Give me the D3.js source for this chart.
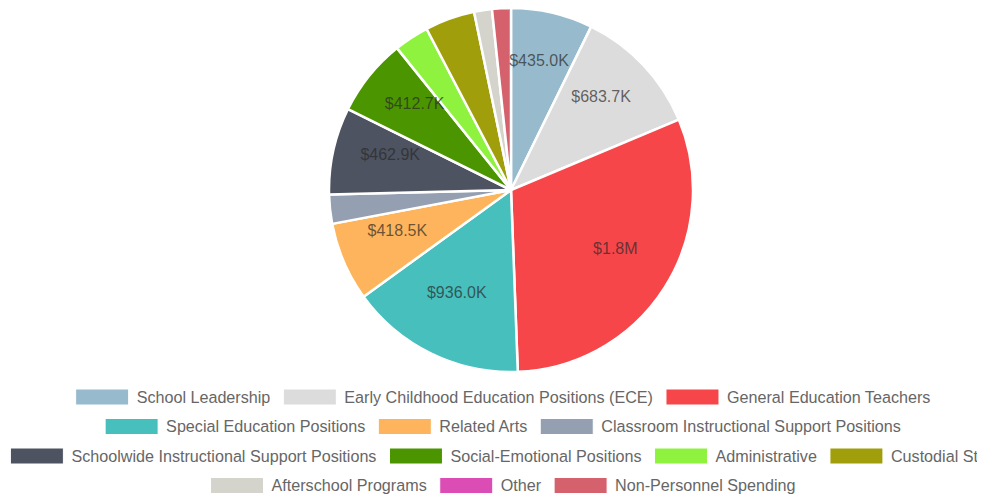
<!DOCTYPE html>
<html>
<head>
<meta charset="utf-8">
<script src="https://cdn.jsdelivr.net/npm/d3@7"></script>
<style>
  html, body { margin: 0; padding: 0; background: #fff; }
  svg { display: block; font-family: "Liberation Sans", Arial, sans-serif; }
</style>
</head>
<body>
<svg id="chart" width="995" height="497"></svg>
<script>
/* budget pie: values in dollars */
const categories = [
  'School Leadership',
  'Early Childhood Education Positions (ECE)',
  'General Education Teachers',
  'Special Education Positions',
  'Related Arts',
  'Classroom Instructional Support Positions',
  'Schoolwide Instructional Support Positions',
  'Social-Emotional Positions',
  'Administrative',
  'Custodial Staff',
  'Afterschool Programs',
  'Other',
  'Non-Personnel Spending'
];
const amounts = [435000, 683700, 1840000, 936000, 418500, 155000, 462900, 412700, 185000, 265000, 95000, 0, 100000];
const colors = ['#97BBCD', '#DCDCDC', '#F7464A', '#46BFBD', '#FDB45C', '#949FB1', '#4D5360',
                '#4B9600', '#8FF23E', '#A19E0C', '#D4D4CC', '#DB4DB5', '#D4616C'];

const W = 995, H = 497;
const chartW = 1006;          // legend was laid out on a wider canvas
const clipRight = 977;        // ...but the visible canvas stops here
const cx = 511, cy = 190, R = 182;

const svg = d3.select('#chart');

svg.append('defs').append('clipPath').attr('id', 'canvasClip')
  .append('rect').attr('x', 0).attr('y', 0).attr('width', clipRight).attr('height', H);

const fmt = v => v >= 1e6 ? '$' + (v / 1e6).toFixed(1) + 'M' : '$' + (v / 1e3).toFixed(1) + 'K';

/* ---------- pie ---------- */
const pie = d3.pie().sort(null).value(d => d.v);
const data = pie(categories.map((c, i) => ({ c, v: amounts[i], color: colors[i] })));
const total = d3.sum(amounts);

const arc = d3.arc().innerRadius(0).outerRadius(R);
const labelArc = d3.arc().innerRadius(R * 0.68).outerRadius(R * 0.68);

const g = svg.append('g').attr('transform', `translate(${cx},${cy})`);

g.selectAll('path')
  .data(data.filter(d => d.data.v > 0))
  .join('path')
  .attr('d', arc)
  .attr('fill', d => d.data.color)
  .attr('stroke', '#fff')
  .attr('stroke-width', 2.5)
  .attr('stroke-linejoin', 'round');

// values only on the bigger slices
g.selectAll('text.val')
  .data(data.filter(d => d.data.v / total > 0.05))
  .join('text')
  .attr('class', 'val')
  .attr('x', d => labelArc.centroid(d)[0])
  .attr('y', d => labelArc.centroid(d)[1] - 3)
  .attr('text-anchor', 'middle')
  .attr('font-size', 16)
  .attr('fill', 'rgba(40,40,40,0.7)')
  .text(d => fmt(d.data.v));

/* ---------- legend (chart.js style, centered rows) ---------- */
const boxW = 53, boxH = 16, gap = 8, pad = 13, rowH = 29.5, legendTop = 389;
const legendFont = 16.15;
const legend = svg.append('g').attr('clip-path', 'url(#canvasClip)');

// measure labels first
const items = categories.map((c, i) => {
  const t = legend.append('text').attr('font-size', legendFont).text(c);
  const w = t.node().getComputedTextLength();
  t.remove();
  return { c, color: colors[i], w: boxW + gap + w };
});

const rows = [[]];
let lineW = 0;
items.forEach(it => {
  const need = (rows[rows.length - 1].length ? pad : 0) + it.w;
  if (lineW + need > chartW && rows[rows.length - 1].length) {
    rows.push([]);
    lineW = 0;
  }
  lineW += (rows[rows.length - 1].length ? pad : 0) + it.w;
  rows[rows.length - 1].push(it);
});

rows.forEach((row, r) => {
  const rw = d3.sum(row, d => d.w) + pad * (row.length - 1);
  let x = chartW / 2 - rw / 2;
  const y = legendTop + r * rowH;
  row.forEach(it => {
    legend.append('rect')
      .attr('x', x).attr('y', y)
      .attr('width', boxW).attr('height', boxH)
      .attr('fill', it.color)
      .attr('stroke', '#fff').attr('stroke-width', 1);
    legend.append('text')
      .attr('x', x + boxW + gap)
      .attr('y', y + boxH / 2)
      .attr('dy', '0.35em')
      .attr('font-size', legendFont)
      .attr('fill', '#666')
      .text(it.c);
    x += it.w + pad;
  });
});
</script>
</body>
</html>
